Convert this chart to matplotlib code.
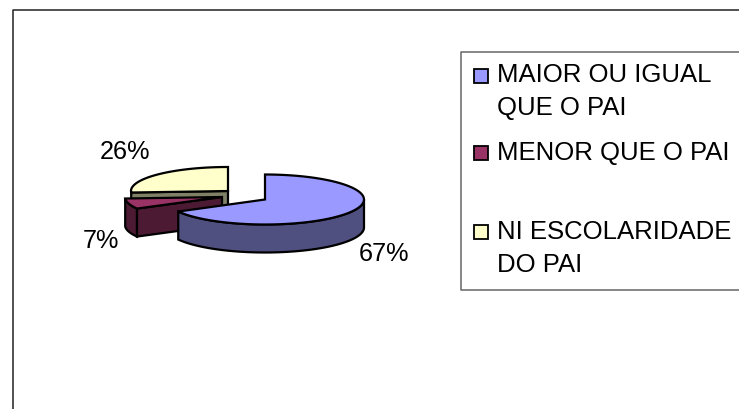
import numpy as np
import matplotlib
matplotlib.use('Agg')
import matplotlib.pyplot as plt
from matplotlib.patches import Polygon, Rectangle

plt.rcParams['font.family'] = ['Liberation Sans', 'DejaVu Sans']

# values
categories = ['MAIOR OU IGUAL\nQUE O PAI', 'MENOR QUE O PAI', 'NI ESCOLARIDADE\nDO PAI']
shares = [67, 7, 26]
pct_labels = ['67%', '7%', '26%']

top_colors = ['#9999ff', '#993366', '#ffffcc']
wall_colors = ['#4f4f80', '#4d1a33', '#808066']
centers = [(265, 200.5), (222, 198), (228, 192)]
radii = [(99, 25), (97, 24), (97, 24)]
depth = 28
label_pos = [(384, 254), (101, 241), (125, 152)]
swatch_y = [70, 147, 226]
text_y = [82, 160, 239]
edge_w = 1.6

fig = plt.figure(figsize=(7.39, 4.10), dpi=100)
ax = fig.add_axes([0, 0, 1, 1])
ax.set_xlim(0, 739)
ax.set_ylim(410, 0)
ax.axis('off')

# outer chart frame, open at right and bottom
ax.plot([12.5, 12.5, 739], [410, 10.5, 10.5], color='#222222', lw=1.1)


def arc(i, a0, a1):
    t = np.radians(np.linspace(a0, a1, 80))
    cx, cy = centers[i]
    rx, ry = radii[i]
    return np.column_stack([cx + rx * np.cos(t), cy - ry * np.sin(t)])


# slice angles: clockwise from 12 o'clock
ends = 90 - np.cumsum(shares) * 3.6
starts = np.r_[90, ends[:-1]]


def draw_wall(i, a0, a1):
    w = arc(i, a0, a1)
    wall = np.vstack([w, (w + [0, depth])[::-1]])
    ax.add_patch(Polygon(wall, fc=wall_colors[i], ec='k', lw=edge_w))


def draw_cut(i, corner, h):
    c = np.array(centers[i], dtype=float)
    down = [0, h]
    ax.add_patch(Polygon([c, c + down, corner + down, corner], fc=wall_colors[i], ec='k', lw=edge_w))


def draw_top(i):
    top = arc(i, starts[i], ends[i])
    ax.add_patch(Polygon(np.vstack([centers[i], top]), fc=top_colors[i], ec='k', lw=edge_w))


# yellow slice at the back
yellow = arc(2, starts[2], ends[2])
draw_cut(2, yellow[0], depth)
draw_top(2)

# red slice, pulled out
red = arc(1, starts[1], ends[1])
draw_wall(1, starts[1], ends[1])
draw_cut(1, red[0], depth)
draw_top(1)

# blue slice in front
draw_wall(0, ends[0], 0)
draw_top(0)

for (x, y), s in zip(label_pos, pct_labels):
    ax.text(x, y, s, ha='center', va='center', fontsize=18.2, color='k')

# legend
ax.plot([739, 460.5, 460.5, 739], [52.5, 52.5, 290.5, 290.5], color='#666666', lw=1.1)
for y, ty, col, name in zip(swatch_y, text_y, top_colors, categories):
    ax.add_patch(Rectangle((473.5, y), 14, 14, fc=col, ec='k', lw=1.3))
    lines = name.split('\n')
    ax.text(497, ty, lines[0], ha='left', va='baseline', fontsize=18.5, color='k')
    if len(lines) > 1:
        ax.text(497, ty + 33, lines[1], ha='left', va='baseline', fontsize=18.5, color='k')

fig.savefig('out.png', dpi=100, facecolor='white')
